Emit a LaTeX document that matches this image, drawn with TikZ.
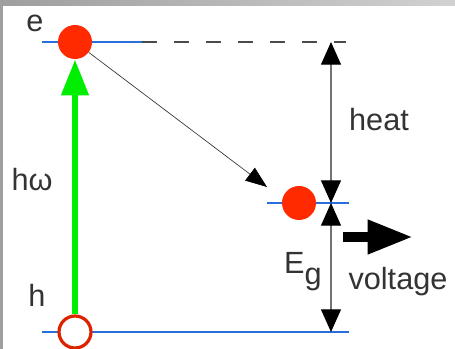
\documentclass[tikz,border=0pt]{standalone}
\usepackage{fontspec}
\setmainfont{Liberation Sans}
\usetikzlibrary{arrows.meta}

\definecolor{bandblue}{HTML}{2A6EDC}
\definecolor{dotred}{HTML}{FF2A00}
\definecolor{holered}{HTML}{DD2200}
\definecolor{pumpgreen}{HTML}{00EE00}
\definecolor{txtgray}{HTML}{333333}

\begin{document}
\begin{tikzpicture}[x=0.75pt, y=-0.75pt,
    band/.style={bandblue, line width=1.6pt},
    particle/.style={circle, inner sep=0pt, minimum size=25.5pt, fill=dotred},
    hole/.style={circle, inner sep=0pt, minimum size=24pt, draw=holered, line width=2.4pt, fill=white},
    txt/.style={text=txtgray, font=\fontsize{23}{27}\selectfont},
    gap/.style={black!55, line width=0.8pt,
        {Triangle[width=15pt,length=17pt,black]}-{Triangle[width=15pt,length=17pt,black]}}]

    \useasboundingbox (0,0) rectangle (455,349);

    % Rahmen
    \fill[left color=black!38, right color=black!18] (0,0) rectangle (455,6);
    \fill[black!38] (0,0) rectangle (3,349);

    % Niveaus
    \coordinate (top l) at (42,42);
    \coordinate (top m) at (142,42);
    \coordinate (top r) at (346,42);
    \coordinate (mid l) at (267,203);
    \coordinate (mid r) at (349,203);
    \coordinate (bot l) at (42,332);
    \coordinate (bot r) at (349,332);

    \draw[band] (top l) -- (top m);
    \draw[black!70, line width=0.8pt, dash pattern=on 11.25pt off 12.75pt] (top m) -- (top r);
    \draw[band] (mid l) -- (mid r);
    \draw[band] (bot l) -- (bot r);

    % Elektron, Loch
    \node[particle] (e) at (75,42) {};
    \node[hole] (h) at (75,332) {};
    \node[particle] (e2) at (299,203) {};

    % Anregung
    \draw[pumpgreen, line width=5.2pt, -{Triangle[width=19.5pt,length=27pt]}] (h) -- (e);

    % Relaxation
    \coordinate (relax) at (267,187);
    \draw[black!80, line width=0.5pt, -{Triangle[width=12pt,length=16pt,black]}] (e) -- (relax);

    % Energieabstaende
    \coordinate (heat top) at (331,42);
    \coordinate (heat bot) at (331,203);
    \coordinate (eg bot) at (331,332);
    \draw[gap] (heat bot) -- (heat top);
    \draw[gap] (heat bot) -- (eg bot);

    % Spannung
    \coordinate (volt a) at (343,237);
    \coordinate (volt b) at (413,237);
    \draw[line width=7.5pt, -{Triangle[width=24pt,length=34pt]}] (volt a) -- (volt b);

    % Beschriftungen
    \node[txt] (lab e) at (35,23) {e};
    \node[txt] (lab hw) at (32,180) {hω};
    \node[txt] (lab h) at (37,295) {h};
    \node[txt] (lab heat) at (379,120) {heat};
    \node[txt] (lab eg) at (303,272) {E\raisebox{-0.35em}{g}};
    \node[txt] (lab volt) at (398,282) {voltage};

\end{tikzpicture}
\end{document}
